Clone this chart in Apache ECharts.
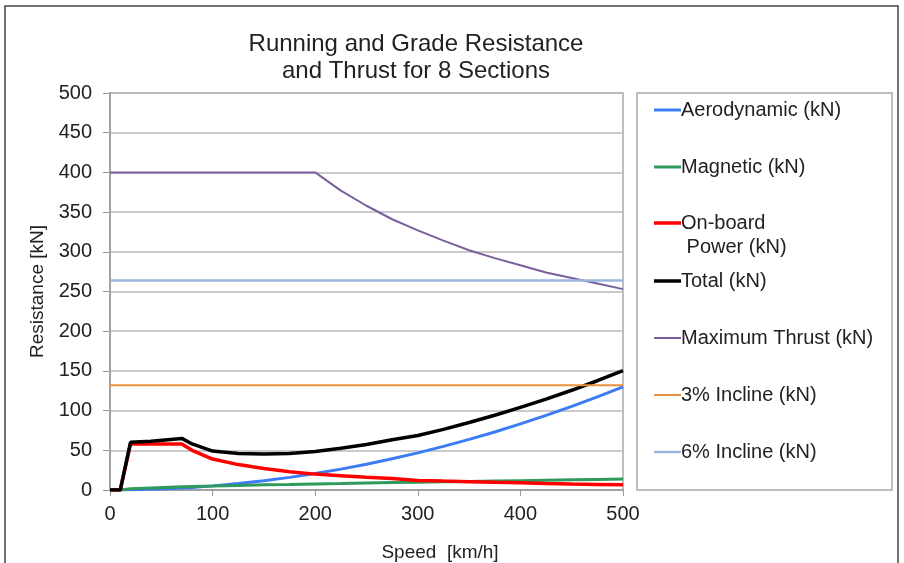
<!DOCTYPE html>
<html>
<head>
<meta charset="utf-8">
<script src="https://cdn.jsdelivr.net/npm/echarts@6/dist/echarts.min.js"></script>
<style>
  html, body { margin: 0; padding: 0; background: #fff; }
  #chart { width: 904px; height: 563px; }
</style>
</head>
<body>
<div id="chart"></div>
<script>
// 速度 km/h
var speed = [0, 10, 20, 40, 70, 80, 100, 125, 150, 175, 200, 225, 250, 275, 300, 325, 350, 375, 400, 425, 450, 475, 500];
var aero    = [0, 0, 0.2, 0.8, 2.5, 3.3, 5.2, 8.1, 11.7, 15.9, 20.8, 26.3, 32.5, 39.3, 46.8, 54.9, 63.7, 73.1, 83.2, 93.9, 105.3, 117.3, 130];
var magnetic = [0, 0, 1.5, 2.5, 4, 4.5, 5, 5.7, 6.5, 7, 7.7, 8.2, 8.8, 9.3, 9.8, 10.3, 10.8, 11.3, 11.8, 12.3, 12.8, 13.3, 13.8];
var onboard = [0, 0, 58, 58, 58, 50, 39, 32, 27, 23, 20, 18, 16, 14.5, 12, 11.2, 10.5, 9.7, 9, 8.2, 7.5, 7, 6.5];
var total   = [0, 0, 60, 61.5, 65, 58, 49, 46, 45.2, 45.9, 48.5, 52.5, 57.3, 63.3, 68.6, 76.4, 85, 94.1, 104, 114.4, 125.6, 137.6, 150.3];
var thrust  = [400, 400, 400, 400, 400, 400, 400, 400, 400, 400, 400, 377, 358, 341, 327, 314, 302, 292, 283, 274, 267, 260, 253];
var incline3 = 132;
var incline6 = 264;

var names  = ['Aerodynamic (kN)', 'Magnetic (kN)', 'On-board\n Power (kN)', 'Total (kN)', 'Maximum Thrust (kN)', '3% Incline (kN)', '6% Incline (kN)'];
var colors = ['#3b7cf4', '#2f9a5c', '#ff0000', '#000000', '#7b5f9c', '#e8913f', '#9bb5dd'];
var widths = [3, 3, 3.5, 3.5, 2, 2, 2.5];

var FONT = '"Liberation Sans", Arial, sans-serif';

function pairs(arr) {
    return speed.map(function (v, i) { return [v, arr[i]]; });
}
function flat(val) {
    return [[0, val], [500, val]];
}

var seriesData = [pairs(aero), pairs(magnetic), pairs(onboard), pairs(total), pairs(thrust), flat(incline3), flat(incline6)];

var series = seriesData.map(function (d, i) {
    return {
        name: names[i],
        type: 'line',
        data: d,
        showSymbol: false,
        lineStyle: { color: colors[i], width: widths[i] },
        itemStyle: { color: colors[i] },
        z: 2 + i
    };
});

// 图例 (手工画)
var legendY = [110, 167, 223, 281, 338, 395, 452];
var graphics = [
    { type: 'rect', shape: { x: 5, y: 6, width: 893, height: 600 }, style: { fill: 'none', stroke: '#444', lineWidth: 1.5 }, silent: true },
    { type: 'rect', shape: { x: 637, y: 93, width: 255, height: 397 }, style: { fill: '#fff', stroke: '#aaa', lineWidth: 1.5 }, silent: true },
    { type: 'text', x: 440, y: 553, style: { text: 'Speed  [km/h]', fill: '#222', font: '19px ' + FONT, textAlign: 'center', textVerticalAlign: 'middle' } }
];
names.forEach(function (n, i) {
    graphics.push({ type: 'line', shape: { x1: 654, y1: legendY[i], x2: 681, y2: legendY[i] }, style: { stroke: colors[i], lineWidth: widths[i] } });
    n.split('\n').forEach(function (t, j) {
        graphics.push({ type: 'text', x: 681, y: legendY[i] + j * 24, style: { text: t, fill: '#222', font: '20px ' + FONT, textVerticalAlign: 'middle' } });
    });
});

var myChart = echarts.init(document.getElementById('chart'));
var option = {
    backgroundColor: '#fff',
    animation: false,
    title: {
        text: 'Running and Grade Resistance\nand Thrust for 8 Sections',
        left: 411,
        top: 26,
        textAlign: 'center',
        textStyle: { fontFamily: FONT, fontSize: 24, fontWeight: 'normal', color: '#222', lineHeight: 27 }
    },
    grid: { left: 110, right: 281, top: 93, bottom: 73, show: true, borderColor: '#aaa', borderWidth: 1.5, backgroundColor: 'transparent' },
    xAxis: {
        type: 'value', min: 0, max: 500, interval: 100,
        axisLine: { show: true, lineStyle: { color: '#999', width: 1.5 } },
        axisTick: { show: true, length: 6, lineStyle: { color: '#999' } },
        axisLabel: { color: '#222', fontSize: 20, fontFamily: FONT, margin: 14 },
        splitLine: { show: false }
    },
    yAxis: {
        type: 'value', min: 0, max: 500, interval: 50,
        name: 'Resistance [kN]', nameLocation: 'middle', nameGap: 57, nameRotate: 90,
        nameTextStyle: { color: '#222', fontSize: 19, fontFamily: FONT },
        axisLine: { show: true, lineStyle: { color: '#999', width: 1.5 } },
        axisTick: { show: true, length: 7, lineStyle: { color: '#999' } },
        axisLabel: { color: '#222', fontSize: 20, fontFamily: FONT, margin: 18 },
        splitLine: { show: true, lineStyle: { color: '#b8b8b8', width: 1.5 } }
    },
    graphic: graphics,
    series: series
};
myChart.setOption(option);
</script>
</body>
</html>
